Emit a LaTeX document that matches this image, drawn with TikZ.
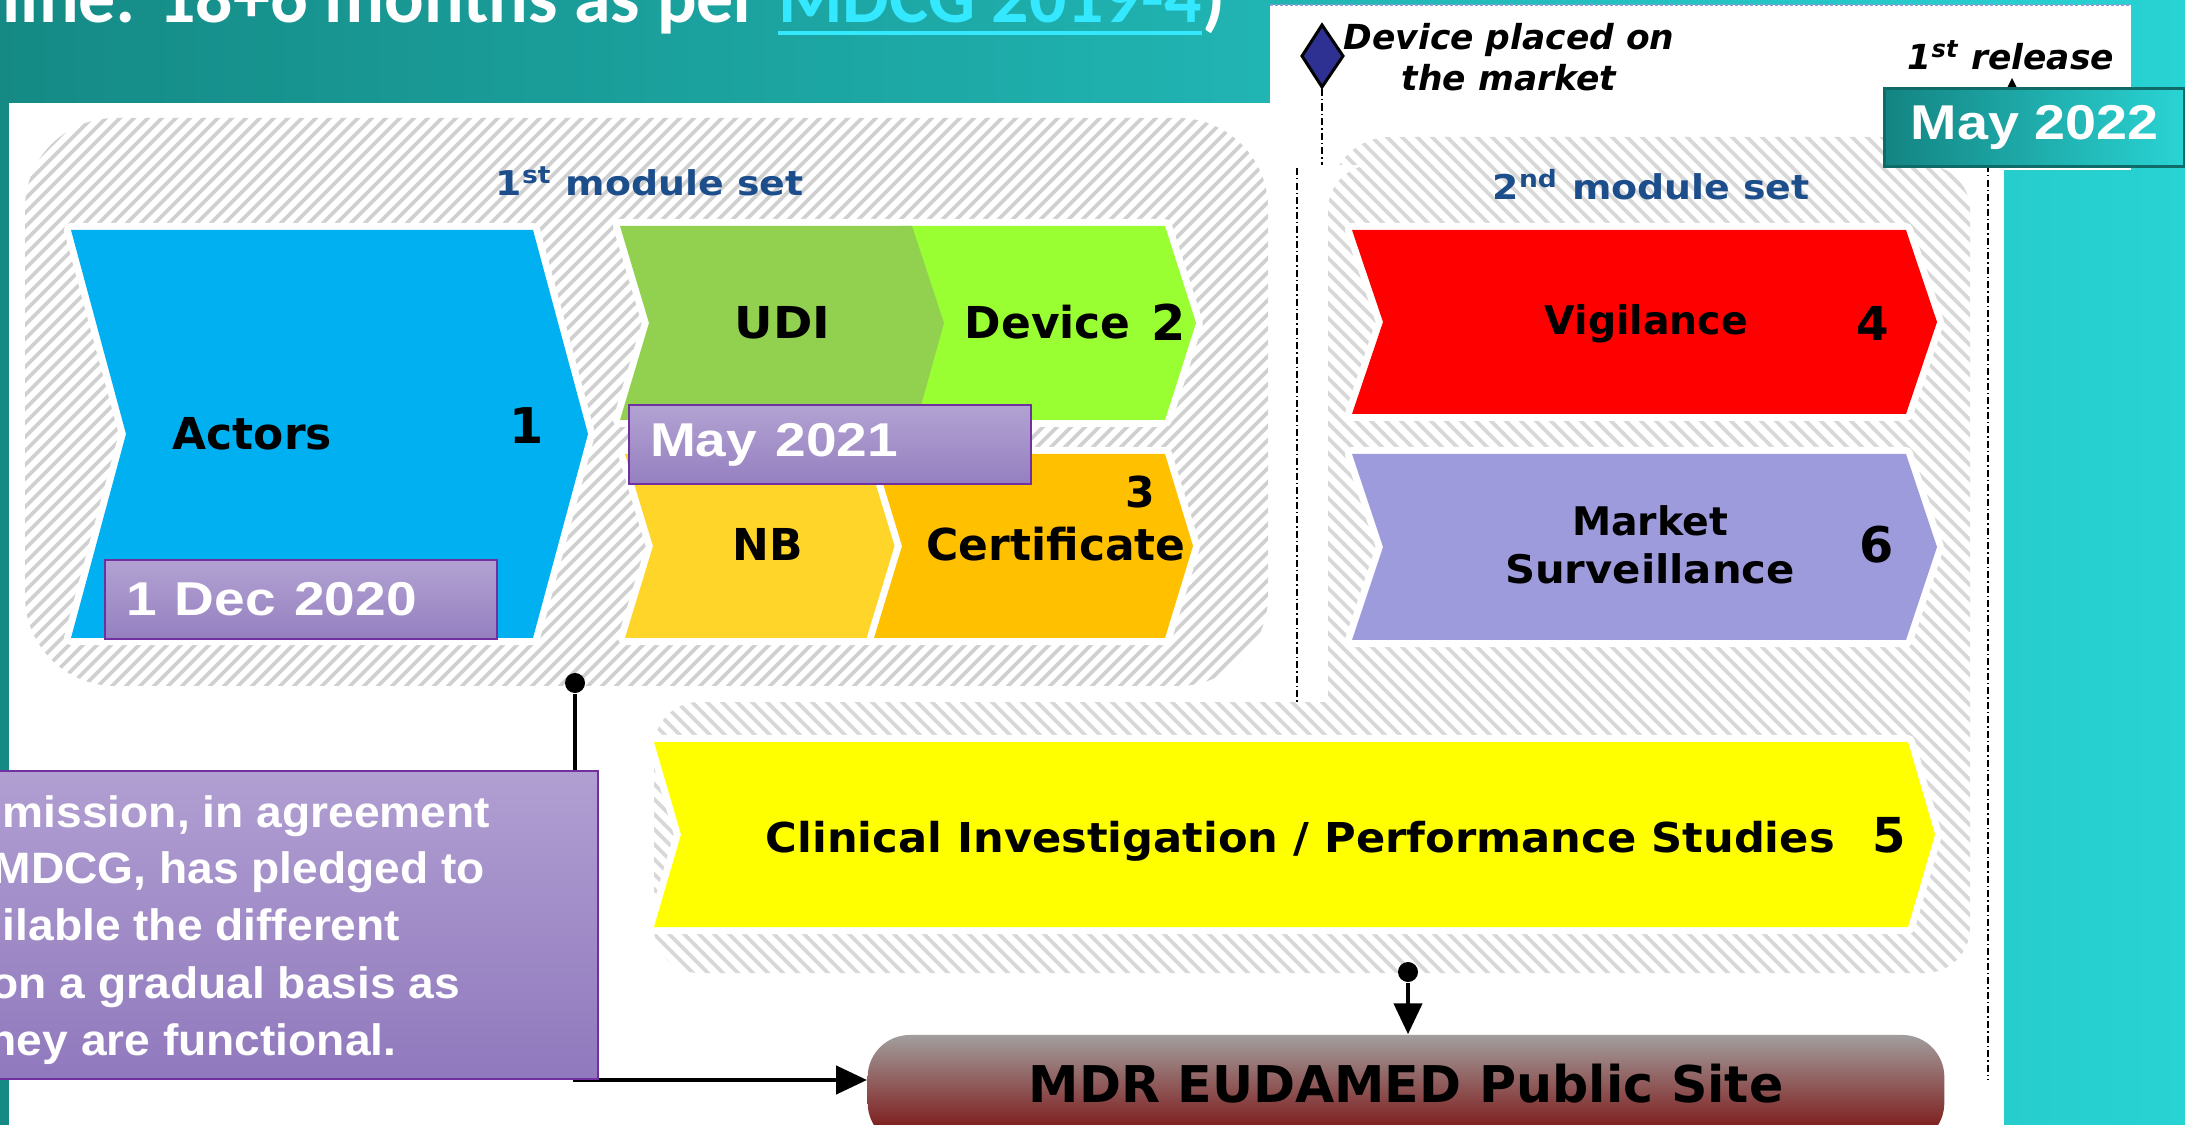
\documentclass[tikz,border=0pt]{standalone}
\usepackage{fontspec}
\usepackage{graphicx}
\usetikzlibrary{arrows.meta}

\newfontfamily\verd{DejaVu Sans}
\newfontfamily\ari{Liberation Sans}
\newfontfamily\cali{Carlito}

% one screen pixel of the slide
\newdimen\unitpx
\unitpx=0.28453pt
\newcommand{\wide}[2]{\scalebox{#1}[1]{#2}}

\definecolor{tealdark}{HTML}{158A85}
\definecolor{teallight}{HTML}{28D3D3}
\definecolor{linkcyan}{HTML}{33E8FF}
\definecolor{actorsblue}{HTML}{00B0F0}
\definecolor{udigreen}{HTML}{92D050}
\definecolor{devgreen}{HTML}{99FF33}
\definecolor{nbyellow}{HTML}{FFD52A}
\definecolor{certorange}{HTML}{FFC000}
\definecolor{vigred}{HTML}{FF0000}
\definecolor{marketlav}{HTML}{9E9BDC}
\definecolor{clinyellow}{HTML}{FFFF00}
\definecolor{setblue}{HTML}{1C4E8C}
\definecolor{dateTop}{HTML}{B2A2D2}
\definecolor{dateBot}{HTML}{9580C0}
\definecolor{dateEdge}{HTML}{7030A0}
\definecolor{noteTop}{HTML}{B19FD2}
\definecolor{noteBot}{HTML}{9079BD}
\definecolor{relLeft}{HTML}{138482}
\definecolor{relRight}{HTML}{2AD4D4}
\definecolor{relEdge}{HTML}{0F6B68}
\definecolor{siteTop}{HTML}{A29E9E}
\definecolor{siteBot}{HTML}{780606}
\definecolor{hatchA}{HTML}{D0D0D0}
\definecolor{hatchB}{HTML}{D8D8D8}
\definecolor{diamondnavy}{HTML}{2E3192}
\definecolor{topline}{HTML}{8C9BD6}

% fill colour, left x, right x, top y, bottom y, tip depth
\newcommand{\modchevron}[6]{%
  \draw[chevedge] (#2,#4) -- (#3,#4) -- ({#3+#6},{(#4+#5)/2}) -- (#3,#5) -- (#2,#5) -- ({#2+#6},{(#4+#5)/2}) -- cycle;
  \fill[#1] (#2,#4) -- (#3,#4) -- ({#3+#6},{(#4+#5)/2}) -- (#3,#5) -- (#2,#5) -- ({#2+#6},{(#4+#5)/2}) -- cycle;
}

\begin{document}
\begin{tikzpicture}[
    x=0.01cm, y=-0.01cm,
    chevedge/.style={draw=white, fill=white, line width=14\unitpx, line join=round},
    hatchone/.style={color=hatchA, line width=3.6\unitpx},
    hatchtwo/.style={color=hatchB, line width=3.8\unitpx},
    marker/.style={black, line width=1.6\unitpx, dash pattern=on 7\unitpx off 3\unitpx on 1.5\unitpx off 3\unitpx},
    titletxt/.style={anchor=base west, inner sep=0, text=white, font=\cali\bfseries\fontsize{21}{25}\selectfont},
    settxt/.style={anchor=base west, inner sep=0, text=setblue, font=\verd\bfseries\fontsize{9.7}{12}\selectfont},
    modtxt/.style={anchor=base west, inner sep=0, font=\verd\bfseries\fontsize{12.5}{15}\selectfont},
    modnum/.style={anchor=base west, inner sep=0, font=\verd\bfseries\fontsize{14}{16}\selectfont},
    placedtxt/.style={anchor=base, inner sep=0, font=\verd\bfseries\itshape\fontsize{9.8}{12}\selectfont},
    datebox/.style={anchor=north west, draw=dateEdge, line width=2\unitpx, top color=dateTop, bottom color=dateBot,
        text=white, font=\ari\bfseries\fontsize{13.5}{16}\selectfont, minimum height=79\unitpx,
        inner xsep=21\unitpx, inner ysep=0, align=left},
    notebox/.style={anchor=north west, draw=dateEdge, line width=2\unitpx, top color=noteTop, bottom color=noteBot,
        minimum width=607\unitpx, minimum height=308\unitpx, inner sep=0},
    notetxt/.style={anchor=base west, inner sep=0, text=white, font=\ari\bfseries\fontsize{12.5}{16}\selectfont},
    sitebox/.style={rounded corners=42\unitpx, top color=siteTop, bottom color=siteBot,
        minimum width=1076\unitpx, minimum height=110\unitpx, inner sep=0},
    sitetxt/.style={anchor=base, inner sep=0, font=\verd\bfseries\fontsize{14.4}{17}\selectfont},
    dot/.style={circle, fill=black, inner sep=0, minimum size=20\unitpx},
    link/.style={line width=4\unitpx, -{Triangle[length=8.8pt, width=8pt]}}
]
\useasboundingbox (0,0) rectangle (2185,1125);
\clip (0,0) rectangle (2185,1125);

% slide background and the two screenshots
\shade[left color=tealdark, right color=teallight] (0,0) rectangle (2185,1125);
\fill[white] (9,103) rectangle (2004,1125);
\fill[white] (1270,5) rectangle (2131,170);
\draw[topline, line width=2\unitpx, dash pattern=on 3\unitpx off 2\unitpx] (1270,5) -- (2131,5);

% heading, cut at the top
\node[titletxt] (title) at (2,23) {line: 18+6 months as per};
\node[titletxt, text=linkcyan] (mdcg) at ([xshift=17\unitpx]title.base east) {MDCG 2019-4};
\node[titletxt] (paren) at (mdcg.base east) {)};
\draw[linkcyan, line width=4\unitpx] ([yshift=-10\unitpx]mdcg.base west) -- ([yshift=-10\unitpx]mdcg.base east);

% hatched module set areas
\begin{scope}
  \clip[rounded corners=90\unitpx] (25,118) rectangle (1268,686);
  \foreach \a in {-560,-546,...,1280}
    \draw[hatchone] (\a,700) -- ++(600,-600);
\end{scope}
\begin{scope}
  \clip (1300,130) rectangle (2000,165);
  \clip[rounded corners=60\unitpx] (1330,137) rectangle (1968,400);
  \foreach \a in {1290,1305,...,1980}
    \draw[hatchtwo] (\a,130) -- ++(60,60);
\end{scope}
\begin{scope}
  \clip[rounded corners=45\unitpx] (1328,165) rectangle (1970,973) (654,702) rectangle (1970,973);
  \foreach \a in {-180,-165,...,1980}
    \draw[hatchtwo] (\a,160) -- ++(830,830);
\end{scope}

% market placement markers
\fill (2007,88) -- (2012,78) -- (2017,88) -- cycle;
\draw[diamondnavy, fill=diamondnavy, draw=black, line width=3\unitpx] (1322,25) -- (1343,56) -- (1322,87) -- (1302,56) -- cycle;
\coordinate (placed) at (1322,89);
\coordinate (placedend) at (1322,165);
\draw[marker] (placed) -- (placedend);
\draw[marker] (1297,168) -- (1297,702);
\draw[marker] (1988,165) -- (1988,1080);

\node[placedtxt] (placed1) at (1509,50) {Device placed on};
\node[placedtxt] (placed2) at (1509,91) {the market};
\node[placedtxt, anchor=base west] (firstrel) at (1907,70) {1\textsuperscript{st} release};

% module chevrons
\modchevron{actorsblue}{71}{533}{230}{638}{55}
\draw[chevedge] (620,226) -- (1165,226) -- (1196,323) -- (1165,420) -- (620,420) -- (649,323) -- cycle;
\fill[devgreen] (900,226) -- (1165,226) -- (1196,323) -- (1165,420) -- (900,420) -- cycle;
\fill[udigreen] (620,226) -- (912,226) -- (944,323) -- (917,420) -- (620,420) -- (649,323) -- cycle;
\modchevron{nbyellow}{625}{874}{454}{638}{28}
\modchevron{certorange}{874}{1165}{454}{638}{28}
\modchevron{vigred}{1352}{1906}{230}{414}{31}
\modchevron{marketlav}{1352}{1906}{454}{640}{31}
\modchevron{clinyellow}{654}{1908}{742}{927}{27}

\node[settxt] (set1) at (495,196) {\wide{1.11}{1\textsuperscript{st} module set}};
\node[settxt] (set2) at (1492,200) {\wide{1.11}{2\textsuperscript{nd} module set}};

\node[modtxt] (actors) at (172,450) {Actors};
\node[modnum] (n1) at (509,444) {1};
\node[modtxt] (udi) at (734,339) {\wide{1.08}{UDI}};
\node[modtxt] (device) at (964,339) {Device};
\node[modnum] (n2) at (1151,341) {2};
\node[modtxt] (nb) at (732,561) {NB};
\node[modtxt] (cert) at (926,561) {Certificate};
\node[modnum, font=\verd\bfseries\fontsize{12.1}{14}\selectfont] (n3) at (1125,508) {3};
\node[modtxt, font=\verd\bfseries\fontsize{11.2}{13}\selectfont] (vig) at (1544,335) {Vigilance};
\node[modnum, font=\verd\bfseries\fontsize{13.3}{15}\selectfont] (n4) at (1856,341) {4};
\node[modtxt, anchor=base, font=\verd\bfseries\fontsize{11.2}{13}\selectfont] (market) at (1650,536) {Market};
\node[modtxt, anchor=base, font=\verd\bfseries\fontsize{11.2}{13}\selectfont] (surv) at (1650,584) {\wide{1.06}{Surveillance}};
\node[modnum] (n6) at (1859,563) {6};
\node[modtxt, font=\verd\bfseries\fontsize{11.7}{14}\selectfont] (clin) at (765,852) {\wide{1.05}{Clinical Investigation / Performance Studies}};
\node[modnum, font=\verd\bfseries\fontsize{13.7}{16}\selectfont] (n5) at (1872,852) {5};

% go-live dates
\node[datebox, text width=350\unitpx] (dec2020) at (104,559) {\wide{1.16}{1 Dec 2020}};
\node[datebox, text width=360\unitpx] (may2021) at (628,404) {\wide{1.16}{May 2021}};
\node[anchor=north west, draw=relEdge, line width=3\unitpx, left color=relLeft, right color=relRight,
      minimum width=300\unitpx, minimum height=78\unitpx, inner sep=0, text=white,
      font=\ari\bfseries\fontsize{13.9}{16}\selectfont] (may2022) at (1883,87) {\wide{1.14}{May 2022}};

% public site and its feeds
\node[sitebox] (site) at (1406,1090) {};
\node[sitetxt] (sitelabel) at ([yshift=-12\unitpx]site.center) {MDR EUDAMED Public Site};
\node[dot] (setdot) at (575,683) {};
\node[dot] (clindot) at (1408,972) {};
\draw[link] (setdot) |- ([yshift=10\unitpx]site.west);
\draw[link] (clindot) -- (clindot |- site.north);

% commitment note
\node[notebox] (notebox) at (-10,770) {};
\foreach \x/\y/\t [count=\n] in {2/827/{mission, in agreement}, -8/883/{MDCG, has pledged to},
    2/940/{ilable the different}, -10/998/{on a gradual basis as}, -12/1055/{ney are functional.}}
  \node[notetxt] (note\n) at (\x,\y) {\wide{1.05}{\t}};
\end{tikzpicture}
\end{document}
